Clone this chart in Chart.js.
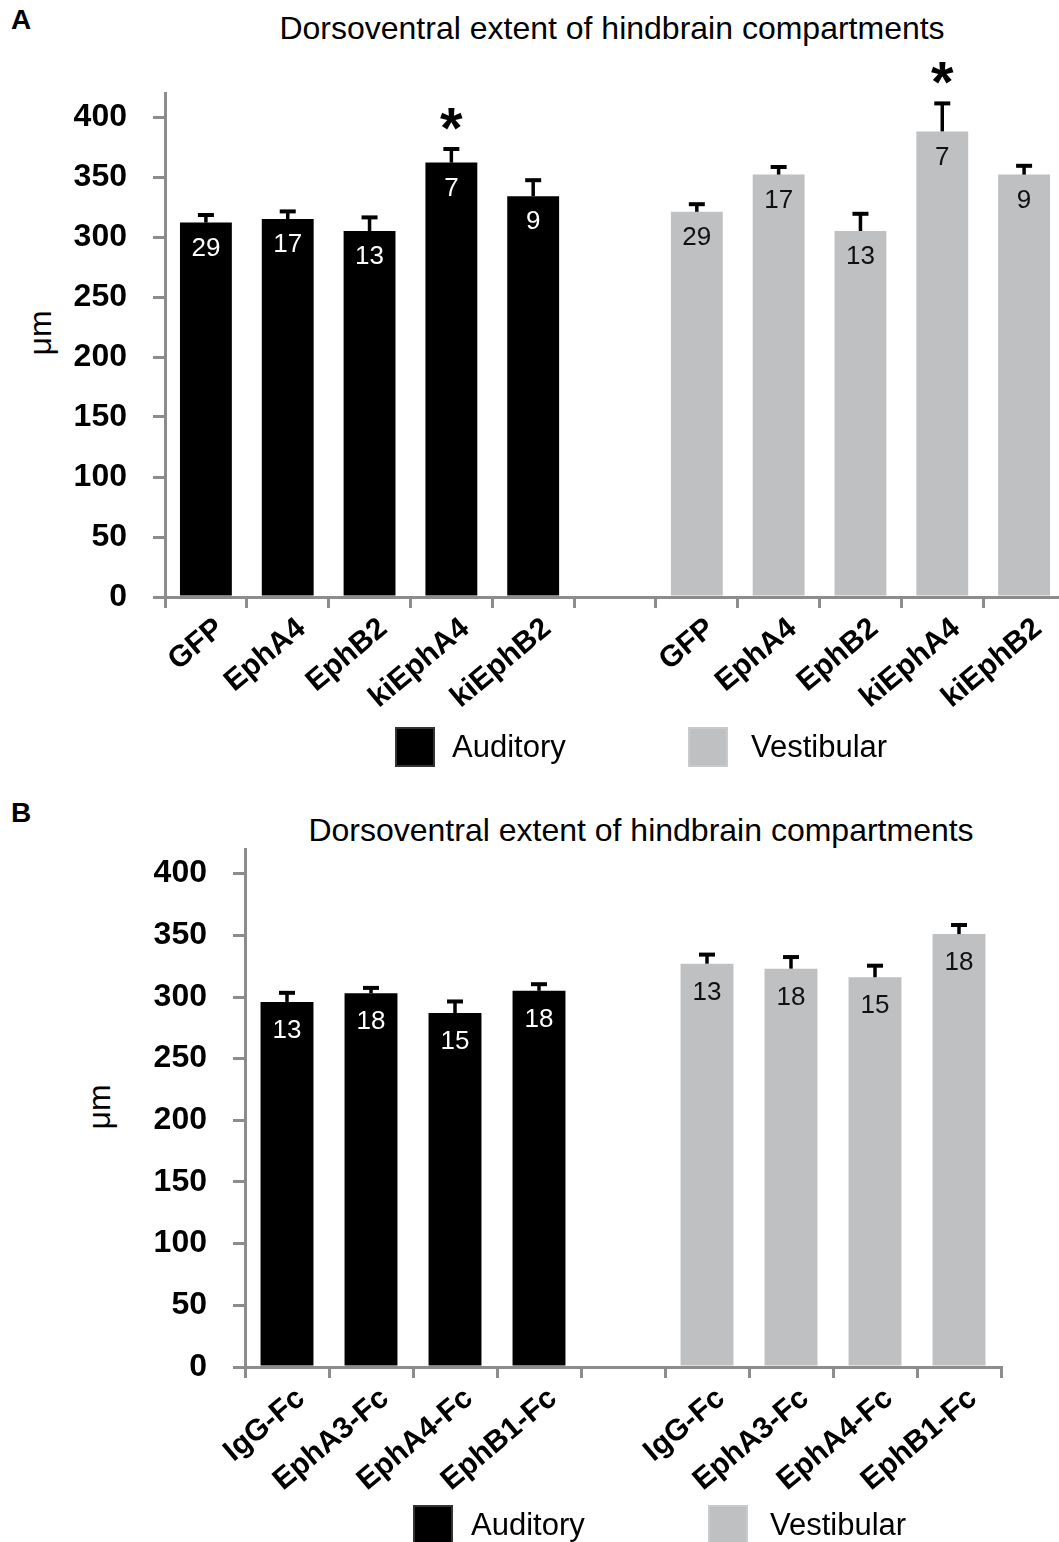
<!DOCTYPE html>
<html>
<head>
<meta charset="utf-8">
<script src="https://cdn.jsdelivr.net/npm/chart.js@4.4.0/dist/chart.umd.min.js"></script>
<style>
  html, body { margin: 0; padding: 0; background: #fff; overflow: hidden; }
  body { width: 1059px; height: 1542px; position: relative; font-family: 'Liberation Sans', Arial, sans-serif; color: #000; }
  .abs { position: absolute; white-space: nowrap; }
  canvas { position: absolute; left: 0; }
  .letter { font-weight: bold; font-size: 28px; line-height: 28px; }
  .title { font-size: 32px; line-height: 32px; text-align: center; width: 764px; }
  .unit { font-size: 32px; line-height: 32px; transform: translate(-50%, -50%) rotate(-90deg); }
  .sw { position: absolute; width: 40px; height: 40px; box-sizing: border-box; }
  .sw.aud { background: #000; border: 2px solid #333; }
  .sw.ves { background: #bfc0c2; border: 2px solid #c9cacc; }
  .lg { font-size: 31px; line-height: 31px; }
</style>
</head>
<body>

<div class="abs letter" style="left:11px; top:6px;">A</div>
<div class="abs title" style="left:230px; top:12px;">Dorsoventral extent of hindbrain compartments</div>
<div class="abs unit" style="left:40px; top:333px;">μm</div>
<canvas id="chartA" width="1070" height="790" style="top:0;"></canvas>
<div class="sw aud" style="left:395px; top:727px;"></div>
<div class="abs lg" style="left:452px; top:731px;">Auditory</div>
<div class="sw ves" style="left:688px; top:727px;"></div>
<div class="abs lg" style="left:751px; top:731px;">Vestibular</div>

<div class="abs letter" style="left:11px; top:799px;">B</div>
<div class="abs title" style="left:259px; top:814px;">Dorsoventral extent of hindbrain compartments</div>
<div class="abs unit" style="left:99px; top:1107px;">μm</div>
<canvas id="chartB" width="1070" height="752" style="top:790px;"></canvas>
<div class="sw aud" style="left:413px; top:1505px;"></div>
<div class="abs lg" style="left:471px; top:1509px;">Auditory</div>
<div class="sw ves" style="left:708px; top:1505px;"></div>
<div class="abs lg" style="left:770px; top:1509px;">Vestibular</div>

<script>
// panel A: electroporated constructs
const groupsA = ['GFP', 'EphA4', 'EphB2', 'kiEphA4', 'kiEphB2'];
const auditoryA = [312, 315, 305, 362, 334];
const auditoryErrA = [8, 8, 13, 13, 15];
const auditoryNA = [29, 17, 13, 7, 9];
const auditoryStarA = ['', '', '', '*', ''];
const vestibularA = [321, 352, 305, 388, 352];
const vestibularErrA = [8, 8, 16, 25, 9];
const vestibularNA = [29, 17, 13, 7, 9];
const vestibularStarA = ['', '', '', '*', ''];

// panel B: Fc fusion proteins
const groupsB = ['IgG-Fc', 'EphA3-Fc', 'EphA4-Fc', 'EphB1-Fc'];
const auditoryB = [296, 303, 287, 305];
const auditoryErrB = [9, 6, 11, 7];
const auditoryNB = [13, 18, 15, 18];
const vestibularB = [327, 323, 316, 351];
const vestibularErrB = [9, 11, 11, 9];
const vestibularNB = [13, 18, 15, 18];

const yTickValues = [0, 50, 100, 150, 200, 250, 300, 350, 400];
const yMax = 420;

const FONT = "'Liberation Sans', Arial, sans-serif";
const axisGray = '#8c8c8c';
Chart.defaults.font.family = FONT;

// error bars (upper only), n inside the bar, asterisk above
const barExtras = {
  id: 'barExtras',
  afterDatasetsDraw(chart, args, opts) {
    const ctx = chart.ctx;
    const y = chart.scales.y;
    chart.data.datasets.forEach((ds, di) => {
      const meta = chart.getDatasetMeta(di);
      meta.data.forEach((bar, i) => {
        const v = ds.data[i];
        if (v == null) return;
        const top = y.getPixelForValue(v);
        const capY = y.getPixelForValue(v + ds.errors[i]);
        ctx.save();
        ctx.strokeStyle = '#000';
        ctx.lineWidth = 3.5;
        ctx.beginPath();
        ctx.moveTo(bar.x, top);
        ctx.lineTo(bar.x, capY + 2);
        ctx.stroke();
        ctx.lineWidth = 4;
        ctx.beginPath();
        ctx.moveTo(bar.x - 8, capY + 2);
        ctx.lineTo(bar.x + 8, capY + 2);
        ctx.stroke();

        ctx.fillStyle = ds.nColor;
        ctx.font = '26px ' + FONT;
        ctx.textAlign = 'center';
        ctx.textBaseline = 'middle';
        ctx.fillText(String(ds.counts[i]), bar.x, top + opts.nOffset);

        if (ds.stars && ds.stars[i]) {
          ctx.fillStyle = '#000';
          ctx.font = 'bold 58px ' + FONT;
          ctx.textBaseline = 'alphabetic';
          ctx.fillText(ds.stars[i], bar.x, capY - 31 + 0.55 * 58);
        }
        ctx.restore();
      });
    });
  }
};

function pad(arr, before, after) {
  return Array(before).fill(null).concat(arr, Array(after).fill(null));
}

function makePanel(id, groups, aud, audErr, audN, audStar, ves, vesErr, vesN, vesStar, lay) {
  const n = groups.length;
  const labels = groups.concat([''], groups);
  return new Chart(document.getElementById(id), {
    type: 'bar',
    data: {
      labels: labels,
      datasets: [
        {
          label: 'Auditory',
          data: pad(aud, 0, n + 1),
          errors: pad(audErr, 0, n + 1),
          counts: pad(audN, 0, n + 1),
          stars: audStar ? pad(audStar, 0, n + 1) : null,
          nColor: '#fff',
          backgroundColor: '#000',
          grouped: false,
          barPercentage: lay.bar,
          categoryPercentage: 1
        },
        {
          label: 'Vestibular',
          data: pad(ves, n + 1, 0),
          errors: pad(vesErr, n + 1, 0),
          counts: pad(vesN, n + 1, 0),
          stars: vesStar ? pad(vesStar, n + 1, 0) : null,
          nColor: '#111',
          backgroundColor: '#bfc0c2',
          grouped: false,
          barPercentage: lay.bar,
          categoryPercentage: 1
        }
      ]
    },
    options: {
      responsive: false,
      animation: false,
      events: [],
      layout: { padding: { left: 0, right: lay.right, top: lay.top, bottom: 0 } },
      plugins: {
        legend: { display: false },
        title: { display: false },
        tooltip: { enabled: false },
        barExtras: { nOffset: lay.nOffset }
      },
      scales: {
        x: {
          z: 1,
          offset: true,
          grid: { offset: true, drawOnChartArea: false, tickLength: 11, color: axisGray, lineWidth: 3 },
          border: { color: axisGray, width: 3 },
          ticks: {
            autoSkip: false, minRotation: 40, maxRotation: 40,
            color: '#000', padding: 3, labelOffset: 14,
            font: { size: 30, weight: 'bold' }
          },
          afterFit: s => { s.height = lay.xHeight; }
        },
        y: {
          min: 0, max: yMax, bounds: 'data',
          ticks: { color: '#000', padding: 26, font: { size: 32, weight: 'bold' } },
          afterBuildTicks: s => { s.ticks = yTickValues.map(v => ({ value: v })); },
          grid: { drawOnChartArea: false, tickLength: 12, color: axisGray, lineWidth: 3 },
          border: { color: axisGray, width: 3 },
          afterFit: s => { s.width = lay.left; }
        }
      }
    },
    plugins: [barExtras]
  });
}

makePanel('chartA', groupsA, auditoryA, auditoryErrA, auditoryNA, auditoryStarA,
  vestibularA, vestibularErrA, vestibularNA, vestibularStarA,
  { left: 165, right: 5, top: 93, xHeight: 193, bar: 0.634, nOffset: 26 });

makePanel('chartB', groupsB, auditoryB, auditoryErrB, auditoryNB, null,
  vestibularB, vestibularErrB, vestibularNB, null,
  { left: 245, right: 69, top: 59, xHeight: 175, bar: 0.63, nOffset: 29 });
</script>
</body>
</html>
